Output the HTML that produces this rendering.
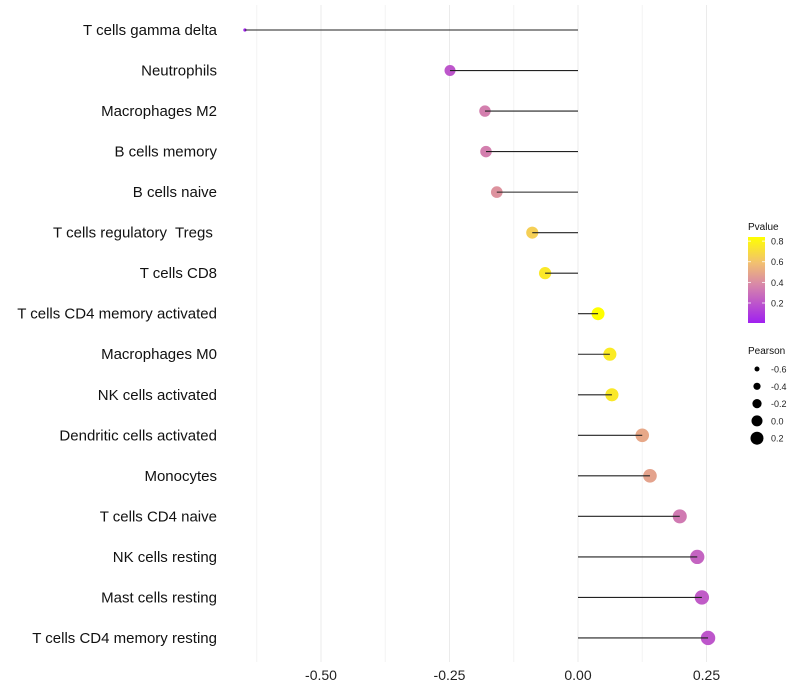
<!DOCTYPE html>
<html><head><meta charset="utf-8">
<style>
html,body{margin:0;padding:0;background:#fff;}
svg{display:block;font-family:"Liberation Sans",sans-serif;}
text{white-space:pre;}
</style></head>
<body>
<svg id="chart" width="800" height="700" xmlns="http://www.w3.org/2000/svg">
<defs>
<linearGradient id="pgrad" x1="0" y1="1" x2="0" y2="0">
<stop offset="0" stop-color="#a020f0"/>
<stop offset="0.45" stop-color="#d888a8"/>
<stop offset="0.7" stop-color="#f2c070"/>
<stop offset="1" stop-color="#ffff00"/>
</linearGradient>
</defs>
</svg>
<script>
const categories=["T cells gamma delta","Neutrophils","Macrophages M2","B cells memory","B cells naive","T cells regulatory  Tregs ","T cells CD8","T cells CD4 memory activated","Macrophages M0","NK cells activated","Dendritic cells activated","Monocytes","T cells CD4 naive","NK cells resting","Mast cells resting","T cells CD4 memory resting"];
const pearson=[-0.648,-0.249,-0.181,-0.179,-0.158,-0.089,-0.064,0.039,0.062,0.066,0.125,0.140,0.198,0.232,0.241,0.253];
const pvalues=[0.01,0.2,0.35,0.35,0.42,0.65,0.75,0.85,0.76,0.75,0.5,0.48,0.33,0.25,0.22,0.2];
const xTicks=[-0.5,-0.25,0,0.25];
const xTickLabels=["-0.50","-0.25","0.00","0.25"];
const pTicks=[0.2,0.4,0.6,0.8];
const sizeTicks=[-0.6,-0.4,-0.2,0.0,0.2];
const sizeTickLabels=["-0.6","-0.4","-0.2","0.0","0.2"];

const svg=document.getElementById('chart');
const NS="http://www.w3.org/2000/svg";
function el(t,a,p){const e=document.createElementNS(NS,t);for(const k in a)e.setAttribute(k,a[k]);(p||svg).appendChild(e);return e;}
const x=v=>578+v*514;
const y=i=>30+i*40.53;
const r=v=>v>=-0.25?5.5+(v+0.25)*3.4:1.6+(v+0.65)/0.4*3.9;
function lerp(a,b,t){return a.map((c,i)=>Math.round(c+(b[i]-c)*t));}
const stops=[[0,[160,32,240]],[0.45,[216,136,168]],[0.7,[242,192,112]],[1,[255,255,0]]];
function pcol(p){let t=Math.max(0,Math.min(1,(p-0.006)/0.834));for(let i=1;i<stops.length;i++){if(t<=stops[i][0]){const u=(t-stops[i-1][0])/(stops[i][0]-stops[i-1][0]);const c=lerp(stops[i-1][1],stops[i][1],u);return `rgb(${c})`;}}return 'rgb(255,255,0)';}

[-0.625,-0.5,-0.375,-0.25,-0.125,0,0.125,0.25].forEach(v=>{
 const g=el('line',{x1:x(v),x2:x(v),y1:5,y2:662,stroke:Math.abs(v*8)%2===1?'#f4f4f4':'#ebebeb','stroke-width':1});
 
 
});
xTicks.forEach((v,i)=>{
 const t=el('text',{x:x(v),y:680,'text-anchor':'middle','font-size':14,fill:'#222'});
 t.textContent=xTickLabels[i];
 
 
});
categories.forEach((c,i)=>{
 const t=el('text',{x:217,y:y(i)+5,'text-anchor':'end','font-size':15,fill:'#111'});
 t.textContent=c;
 
 
 const d=el('circle',{cx:x(pearson[i]),cy:y(i),r:r(pearson[i]),fill:pcol(pvalues[i])});
 
 
 const l=el('line',{x1:x(0),x2:x(pearson[i]),y1:y(i),y2:y(i),stroke:'#222','stroke-width':1.1});
 
 
});
const lt=el('text',{x:748,y:230,'font-size':10,fill:'#111'});lt.textContent='Pvalue';


const cb=el('rect',{x:748,y:237,width:17,height:86,fill:'url(#pgrad)'});


const py=p=>323-(p-0.006)/0.834*86;
pTicks.forEach(p=>{
 el('line',{x1:748,x2:751,y1:py(p),y2:py(p),stroke:'#fff','stroke-width':0.8});
 el('line',{x1:762,x2:765,y1:py(p),y2:py(p),stroke:'#fff','stroke-width':0.8});
 const t=el('text',{x:771,y:py(p)+3.5,'font-size':9,fill:'#222'});t.textContent=p.toFixed(1);
 
 
});
const st=el('text',{x:748,y:354,'font-size':10,fill:'#111'});st.textContent='Pearson';


const legR=[2.5,3.6,4.6,5.5,6.5];
sizeTicks.forEach((v,i)=>{
 const yy=369+i*17.3;
 const c=el('circle',{cx:757,cy:yy,r:legR[i],fill:'#000'});
 
 
 const t=el('text',{x:771,y:yy+3.5,'font-size':9,fill:'#222'});t.textContent=sizeTickLabels[i];
 
 
});
</script>
</body></html>
